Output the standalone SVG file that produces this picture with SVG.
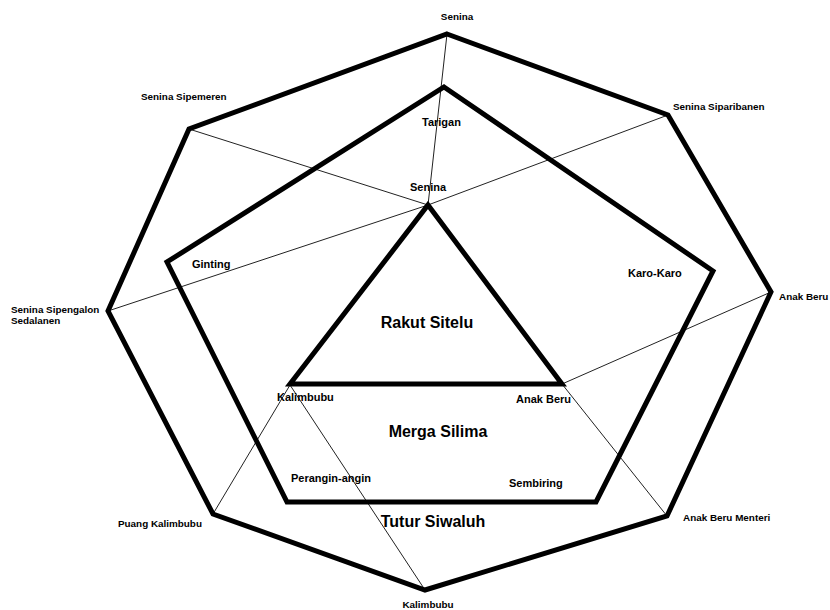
<svg xmlns="http://www.w3.org/2000/svg" width="830" height="610" viewBox="0 0 830 610">
<style>
.thick{fill:none;stroke:#000;stroke-width:5;stroke-linejoin:miter}
.thin{stroke:#222;stroke-width:1;fill:none}
.outer{font-family:"Liberation Sans",Arial,sans-serif;font-weight:bold;font-size:9.9px;fill:#000}
.inner{font-family:"Liberation Sans",Arial,sans-serif;font-weight:bold;font-size:11px;fill:#000}
.big{font-family:"Liberation Sans",Arial,sans-serif;font-weight:bold;font-size:16px;fill:#000}
</style>
<rect width="830" height="610" fill="#fff"/>
<g id="connectors">
<line class="thin" x1="447" y1="34" x2="428" y2="205"/>
<line class="thin" x1="189" y1="129" x2="428" y2="205"/>
<line class="thin" x1="668" y1="115" x2="428" y2="205"/>
<line class="thin" x1="108" y1="311" x2="428" y2="205"/>
<line class="thin" x1="771" y1="292" x2="562" y2="384"/>
<line class="thin" x1="667" y1="516" x2="562" y2="384"/>
<line class="thin" x1="213" y1="514" x2="290" y2="385"/>
<line class="thin" x1="425" y1="590" x2="290" y2="385"/>
</g>
<g id="tutur-siwaluh">
<polygon class="thick" points="447,34 668,115 771,292 667,516 425,590 213,514 108,311 189,129"/>
<text class="big" x="433" y="527" text-anchor="middle">Tutur Siwaluh</text>
</g>
<g id="merga-silima">
<polygon class="thick" points="444,87 713,271 596,502 287,502 167,262"/>
<text class="big" x="438" y="437" text-anchor="middle">Merga Silima</text>
</g>
<g id="rakut-sitelu">
<polygon class="thick" points="428,205 562,384 290,384"/>
<text class="big" x="427" y="328" text-anchor="middle">Rakut Sitelu</text>
</g>
<g id="n-senina-top"><text class="outer" x="457" y="20" text-anchor="middle">Senina</text></g>
<g id="n-senina-sipemeren"><text class="outer" x="141" y="100">Senina Sipemeren</text></g>
<g id="n-senina-siparibanen"><text class="outer" x="673" y="110">Senina Siparibanen</text></g>
<g id="n-anak-beru-outer"><text class="outer" x="779" y="300">Anak Beru</text></g>
<g id="n-anak-beru-menteri"><text class="outer" x="683" y="521">Anak Beru Menteri</text></g>
<g id="n-kalimbubu-outer"><text class="outer" x="428" y="608" text-anchor="middle">Kalimbubu</text></g>
<g id="n-puang-kalimbubu"><text class="outer" x="118" y="527">Puang Kalimbubu</text></g>
<g id="n-senina-sipengalon"><text class="outer" x="11" y="313">Senina Sipengalon</text><text class="outer" x="11" y="324">Sedalanen</text></g>
<g id="n-tarigan"><text class="inner" x="422" y="126">Tarigan</text></g>
<g id="n-karo-karo"><text class="inner" x="628" y="277">Karo-Karo</text></g>
<g id="n-ginting"><text class="inner" x="192" y="268">Ginting</text></g>
<g id="n-perangin-angin"><text class="inner" x="291" y="482">Perangin-angin</text></g>
<g id="n-sembiring"><text class="inner" x="509" y="487">Sembiring</text></g>
<g id="n-senina-inner"><text class="inner" x="428" y="191" text-anchor="middle">Senina</text></g>
<g id="n-kalimbubu-inner"><text class="inner" x="277" y="401">Kalimbubu</text></g>
<g id="n-anak-beru-inner"><text class="inner" x="516" y="403">Anak Beru</text></g>
</svg>
